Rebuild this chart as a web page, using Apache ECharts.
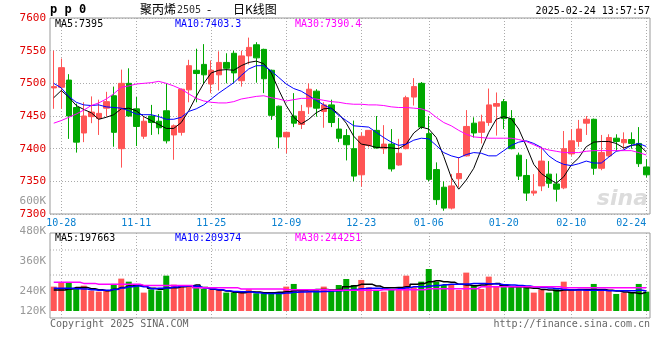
<!DOCTYPE html>
<html><head><meta charset="utf-8">
<script src="https://cdn.jsdelivr.net/npm/echarts@6/dist/echarts.min.js"></script>
<style>html,body{margin:0;padding:0;background:#fff}#c{width:660px;height:360px}</style>
</head><body><div id="c"></div>
<script>
const dates = ['10-25','10-28','10-29','10-30','10-31','11-01','11-04','11-05','11-06','11-07',
'11-08','11-11','11-12','11-13','11-14','11-15','11-18','11-19','11-20','11-21',
'11-22','11-25','11-26','11-27','11-28','11-29','12-02','12-03','12-04','12-05',
'12-06','12-09','12-10','12-11','12-12','12-13','12-16','12-17','12-18','12-19',
'12-20','12-23','12-24','12-25','12-26','12-27','12-30','12-31','01-02','01-03',
'01-06','01-07','01-08','01-09','01-10','01-13','01-14','01-15','01-16','01-17',
'01-20','01-21','01-22','01-23','01-24','01-27','02-05','02-06','02-07','02-10',
'02-11','02-12','02-13','02-14','02-17','02-18','02-19','02-20','02-21','02-24'];
const labelDates = ['10-28','11-11','11-25','12-09','12-23','01-06','01-20','02-10','02-24'];

const open = [7493,7494,7505,7463,7424,7449,7446,7462,7481,7400,
7500,7461,7419,7450,7442,7458,7421,7425,7490,7520,
7529,7499,7513,7532,7546,7504,7542,7559,7552,7520,
7465,7418,7450,7437,7464,7488,7457,7467,7430,7420,
7400,7360,7405,7428,7400,7407,7375,7400,7479,7500,
7423,7368,7341,7309,7354,7389,7439,7425,7440,7465,
7472,7446,7390,7359,7332,7343,7361,7346,7340,7392,
7411,7439,7445,7370,7389,7416,7409,7414,7408,7372];
const close = [7495,7524,7450,7410,7450,7456,7454,7472,7425,7500,
7450,7434,7442,7440,7432,7412,7435,7491,7527,7515,
7513,7520,7532,7523,7516,7542,7555,7539,7507,7451,
7418,7425,7439,7457,7491,7462,7467,7440,7416,7406,
7358,7419,7428,7401,7407,7369,7393,7478,7495,7433,
7353,7322,7309,7343,7362,7434,7424,7441,7467,7469,
7446,7400,7358,7332,7335,7381,7347,7338,7400,7412,
7430,7445,7370,7394,7417,7411,7414,7408,7377,7360];
const low = [7461,7461,7415,7394,7410,7439,7421,7449,7403,7371,
7449,7404,7415,7421,7422,7408,7383,7420,7471,7471,
7499,7485,7489,7500,7500,7495,7529,7501,7485,7444,
7401,7393,7433,7430,7453,7449,7432,7433,7410,7382,
7350,7342,7402,7400,7392,7365,7374,7399,7466,7430,
7350,7314,7305,7307,7341,7388,7417,7408,7435,7420,
7430,7399,7352,7320,7328,7335,7340,7319,7338,7389,
7403,7421,7360,7367,7387,7396,7399,7400,7372,7356];
const high = [7550,7538,7514,7469,7471,7480,7475,7487,7495,7521,
7523,7479,7450,7467,7453,7500,7437,7492,7536,7553,
7560,7535,7549,7546,7550,7550,7570,7563,7553,7521,
7466,7426,7485,7467,7500,7491,7471,7475,7447,7430,
7443,7425,7428,7450,7436,7430,7415,7481,7508,7502,
7450,7379,7350,7361,7387,7459,7448,7452,7492,7486,
7476,7459,7394,7384,7361,7403,7381,7362,7427,7430,
7444,7450,7446,7421,7422,7422,7425,7425,7433,7384];

const ma5 = [7478,7489,7479,7466,7460,7455,7445,7448,7452,7461,
7462,7458,7449,7443,7437,7431,7431,7440,7458,7480,
7500,7516,7520,7521,7520,7527,7532,7534,7530,7516,
7490,7466,7448,7438,7445,7455,7461,7462,7453,7439,
7419,7407,7405,7402,7402,7401,7400,7407,7424,7433,
7430,7417,7388,7356,7338,7352,7370,7399,7425,7445,
7449,7446,7430,7404,7376,7362,7354,7347,7357,7375,
7386,7403,7410,7411,7411,7408,7401,7405,7406,7395];
const ma10 = [7500,7493,7480,7471,7467,7466,7467,7464,7463,7462,
7458,7453,7452,7452,7449,7445,7445,7448,7457,7461,
7467,7476,7485,7493,7501,7512,7522,7527,7527,7519,
7509,7499,7492,7488,7481,7474,7467,7461,7451,7443,
7435,7434,7433,7425,7417,7410,7405,7407,7413,7416,
7415,7405,7394,7389,7386,7391,7394,7393,7389,7389,
7397,7405,7410,7412,7408,7402,7389,7381,7376,7374,
7377,7381,7378,7378,7387,7396,7398,7405,7408,7403.3];
const ma30 = [7439,7443,7448,7453,7459,7466,7470,7476,7484,7494,
7496,7499,7500,7501,7503,7500,7496,7491,7484,7477,
7473,7471,7470,7470,7472,7476,7478,7480,7481,7478,
7476,7473,7475,7477,7477,7476,7474,7472,7471,7469,
7468,7468,7467,7467,7466,7464,7463,7463,7462,7461,
7457,7448,7440,7435,7428,7422,7418,7417,7416,7416,
7416,7416,7414,7411,7406,7401,7398,7396,7394,7394,
7394,7396,7397,7397,7397,7397,7397,7397,7394,7390.4];

// volume, in thousands of lots
const volume = [256,301,301,238,266,214,203,221,284,340,
308,284,193,228,214,371,277,256,256,256,
231,228,221,193,193,193,228,186,186,193,
186,256,284,214,203,228,256,214,273,336,
273,326,249,221,203,228,221,371,249,308,
441,308,273,273,221,403,273,231,361,263,
263,263,263,245,193,221,193,228,308,228,
221,228,284,228,221,179,193,193,284,203];
const vma5 = [220,220,231,248,248,234,224,213,228,248,
262,273,266,238,228,245,245,255,262,273,
248,228,220,210,196,192,203,199,192,192,
196,203,213,213,220,227,227,220,227,255,
266,280,280,262,245,245,248,255,280,290,
308,318,308,301,280,273,266,273,283,290,
266,255,255,245,238,227,220,213,220,220,
227,227,227,227,217,210,199,192,185,197.663];
const vma10 = [238,238,238,234,231,224,217,217,227,241,
255,262,255,234,238,241,252,259,262,259,
241,231,224,213,206,203,199,192,185,185,
185,189,196,199,203,203,206,210,213,220,
227,234,238,238,231,227,234,245,255,255,
262,269,276,280,280,283,290,290,287,283,
276,273,269,262,255,248,241,234,227,220,
220,217,217,217,213,213,213,213,217,209.374];
const vma30 = [301,301,301,301,290,290,280,280,280,280,
280,280,269,269,269,269,269,269,269,245,
245,245,245,245,245,231,231,231,231,231,
231,224,224,224,224,224,224,217,217,217,
217,217,217,217,224,224,224,224,224,224,
234,234,234,234,234,234,234,255,255,255,
255,255,255,255,255,255,255,255,245,245,
245,245,245,245,245,245,245,245,245,244.251];

const priceMaText = ['MA5:7395', 'MA10:7403.3', 'MA30:7390.4'];
const volMaText = ['MA5:197663', 'MA10:209374', 'MA30:244251'];

const RED = '#ff5555', GREEN = '#00a800';
const MONO = '"DejaVu Sans Mono", "Liberation Mono", monospace';
const CJK = '"Noto Sans CJK SC", sans-serif';
const GRID_LINE = {color: '#aaaaaa', type: [1, 2], width: 1};
const showDate = (i, v) => labelDates.indexOf(v) >= 0;

const chart = echarts.init(document.getElementById('c'), null, {renderer: 'canvas'});
const candleData = open.map((o, i) => [o, close[i], low[i], high[i]]);
const volData = volume.map((v, i) => ({value: v, itemStyle: {color: close[i] >= open[i] ? RED : GREEN}}));

function txt(x, y, s, color, font, align) {
  return {type: 'text', x: x, y: y, silent: true,
    style: {text: s, fill: color, font: font, textAlign: align || 'left', textVerticalAlign: 'middle'}};
}

chart.setOption({
  animation: false,
  backgroundColor: '#fff',
  grid: [
    {left: 50, width: 600, top: 18, height: 196, show: true, borderColor: '#999', borderWidth: 1},
    {left: 50, width: 600, top: 233, height: 85, show: true, borderColor: '#999', borderWidth: 1},
    {left: 50, width: 600, top: 201, height: 120, show: false}
  ],
  xAxis: [
    {type: 'category', gridIndex: 0, data: dates, boundaryGap: true,
     axisLine: {show: false}, axisTick: {show: false},
     axisLabel: {interval: showDate, color: '#0a80d0', fontFamily: MONO, fontSize: 10, margin: 4, alignMaxLabel: 'right'},
     splitLine: {show: true, interval: showDate, alignWithLabel: true, lineStyle: GRID_LINE}},
    {type: 'category', gridIndex: 1, data: dates, boundaryGap: true,
     axisLine: {show: false}, axisTick: {show: false}, axisLabel: {show: false},
     splitLine: {show: true, interval: showDate, alignWithLabel: true, lineStyle: GRID_LINE}},
    {type: 'category', gridIndex: 2, data: dates, show: false}
  ],
  yAxis: [
    {type: 'value', gridIndex: 0, min: 7300, max: 7600, interval: 50, position: 'left',
     axisLine: {show: false}, axisTick: {show: false},
     axisLabel: {color: '#e00000', fontFamily: MONO, fontSize: 11, margin: 4, padding: [0, 0, 4, 0],
       formatter: v => String(v)},
     splitLine: {show: true, lineStyle: GRID_LINE}},
    {type: 'value', gridIndex: 1, min: -73.5, max: 819, show: false, splitLine: {show: false}},
    {type: 'value', gridIndex: 2, min: 120, max: 600, interval: 120, position: 'left',
     axisLine: {show: false}, axisTick: {show: false}, splitLine: {show: false},
     axisLabel: {color: '#999', fontFamily: MONO, fontSize: 11, margin: 4,
       formatter: v => v === 120 ? '{lo|120K}' : v + 'K',
       rich: {lo: {color: '#999', fontFamily: MONO, fontSize: 11, padding: [0, 0, 20, 0]}}}}
  ],
  series: [
    {type: 'candlestick', xAxisIndex: 0, yAxisIndex: 0, data: candleData, barWidth: 6,
     itemStyle: {color: RED, color0: GREEN, borderColor: RED, borderColor0: GREEN, borderColorDoji: RED, borderWidth: 1}},
    {type: 'line', xAxisIndex: 0, yAxisIndex: 0, data: ma5, symbol: 'none', lineStyle: {color: '#000', width: 1}, z: 5},
    {type: 'line', xAxisIndex: 0, yAxisIndex: 0, data: ma10, symbol: 'none', lineStyle: {color: '#0000ff', width: 1}, z: 5},
    {type: 'line', xAxisIndex: 0, yAxisIndex: 0, data: ma30, symbol: 'none', lineStyle: {color: '#ff00ff', width: 1}, z: 5},
    {type: 'bar', xAxisIndex: 1, yAxisIndex: 1, data: volData, barWidth: 6},
    {type: 'line', xAxisIndex: 1, yAxisIndex: 1, data: vma5, step: 'middle', symbol: 'none', lineStyle: {color: '#000', width: 1.5}, z: 5},
    {type: 'line', xAxisIndex: 1, yAxisIndex: 1, data: vma10, step: 'middle', symbol: 'none', lineStyle: {color: '#0000ff', width: 1.5}, z: 5},
    {type: 'line', xAxisIndex: 1, yAxisIndex: 1, data: vma30, step: 'middle', symbol: 'none', lineStyle: {color: '#ff00ff', width: 1.5}, z: 5}
  ],
  graphic: [
    {type: 'line', silent: true, shape: {x1: 50, y1: 250, x2: 650, y2: 250}, style: {stroke: '#aaa', lineDash: [1, 2]}},
    {type: 'line', silent: true, shape: {x1: 50, y1: 275, x2: 650, y2: 275}, style: {stroke: '#aaa', lineDash: [1, 2]}},
    txt(50, 10, 'p p 0', '#000', 'bold 12px ' + MONO),
    txt(140, 9, '聚丙烯', '#000', '12px ' + CJK),
    txt(177, 10, '2505', '#333', '10px ' + MONO),
    txt(207, 9, '-', '#000', '12px ' + CJK),
    txt(233, 9, '日K线图', '#000', '12px ' + CJK),
    txt(650, 11, '2025-02-24 13:57:57', '#000', '10px ' + MONO, 'right'),
    txt(55, 24, priceMaText[0], '#000', '10px ' + MONO),
    txt(175, 24, priceMaText[1], '#0000ff', '10px ' + MONO),
    txt(295, 24, priceMaText[2], '#ff00ff', '10px ' + MONO),
    txt(55, 238, volMaText[0], '#000', '10px ' + MONO),
    txt(175, 238, volMaText[1], '#0000ff', '10px ' + MONO),
    txt(295, 238, volMaText[2], '#ff00ff', '10px ' + MONO),
    txt(50, 324, 'Copyright 2025 SINA.COM', '#666', '10px ' + MONO),
    txt(650, 324, 'http://finance.sina.com.cn', '#666', '10px ' + MONO, 'right'),
    txt(648, 199, 'sina', '#dcdcdc', 'italic bold 22px "DejaVu Sans", sans-serif', 'right')
  ]
});
</script>
</body></html>
